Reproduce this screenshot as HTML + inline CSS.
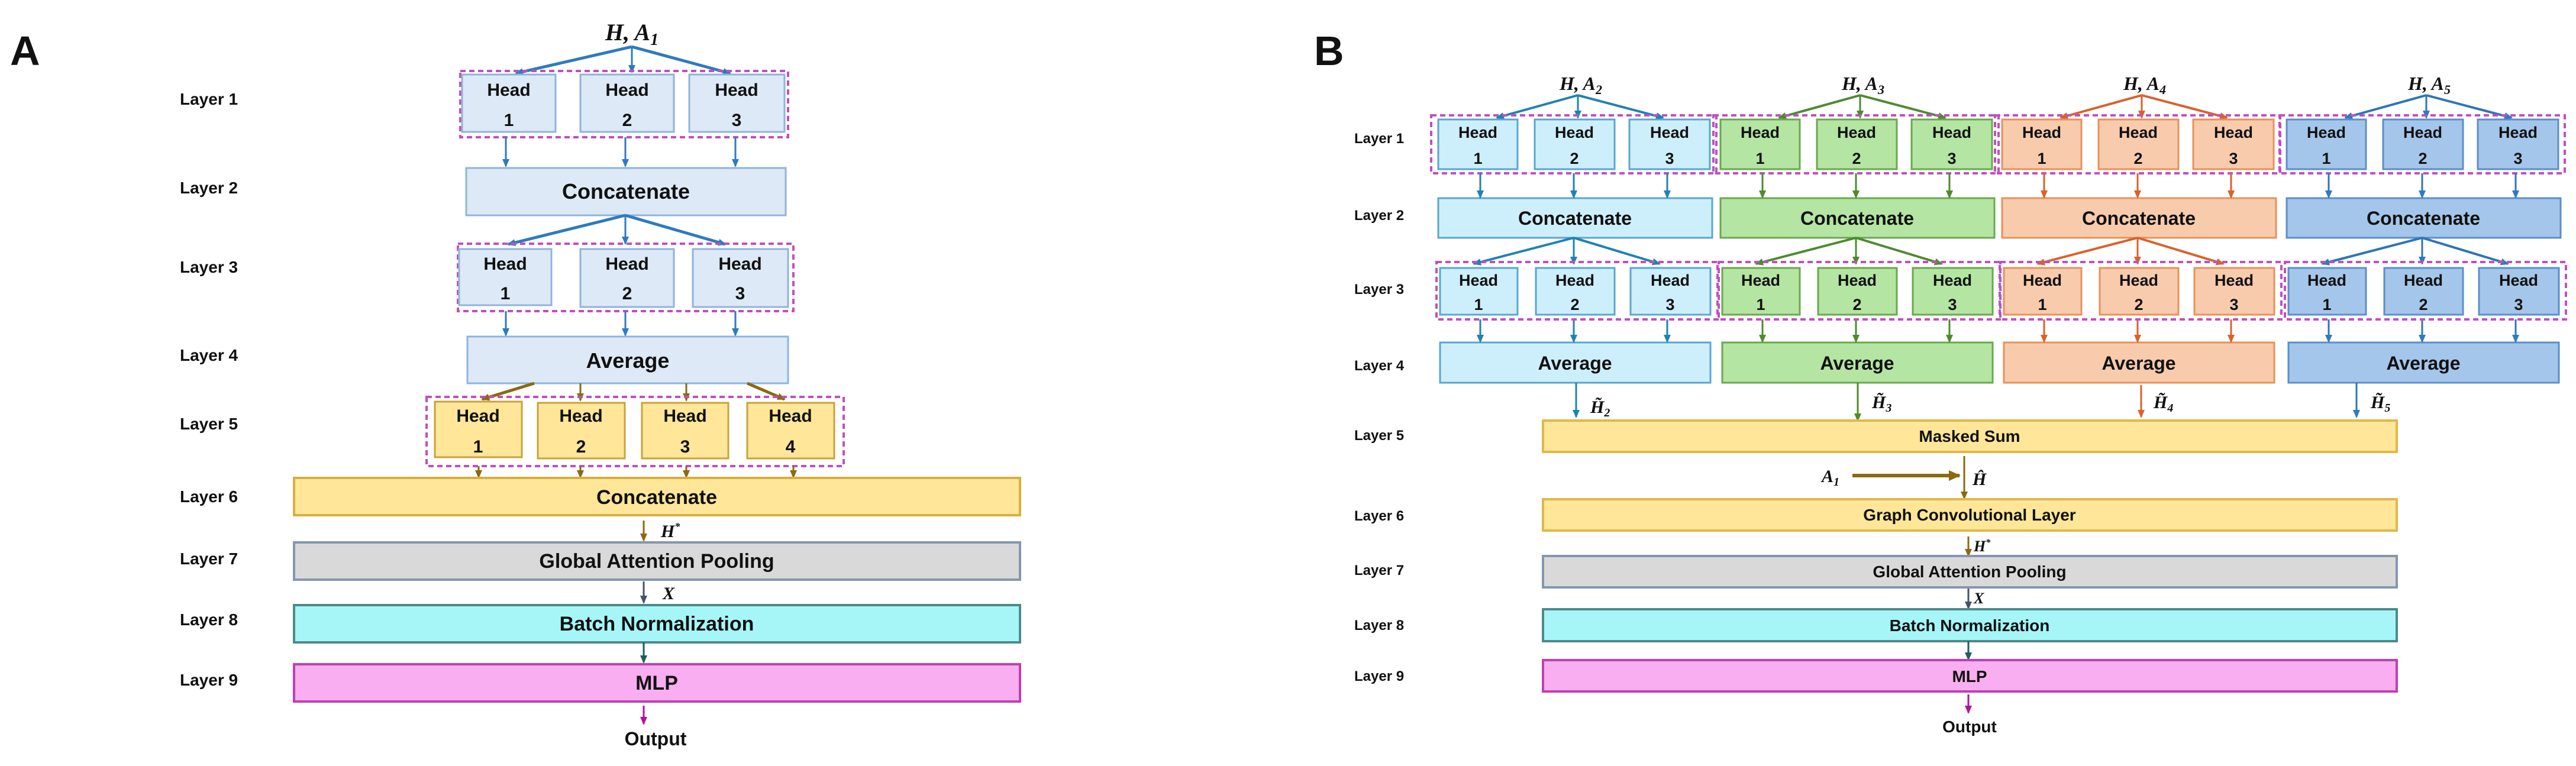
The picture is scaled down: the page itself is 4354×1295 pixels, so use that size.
<!DOCTYPE html>
<html><head><meta charset="utf-8"><style>
html,body{margin:0;padding:0;background:#fff;}
svg{display:block;}
text{font-family:"Liberation Sans",sans-serif;font-weight:bold;fill:#111;}
.m{font-family:"Liberation Serif","DejaVu Serif",serif;font-style:italic;font-weight:bold;}
</style></head><body>
<svg width="4354" height="1295" viewBox="0 0 4354 1295" xmlns="http://www.w3.org/2000/svg">
<defs>
<marker id="mb" markerWidth="14" markerHeight="12" refX="12" refY="6" orient="auto" markerUnits="userSpaceOnUse"><path d="M0,0 L14,6 L0,12 z" fill="#2e7bbf"/></marker>
<marker id="mg" markerWidth="14" markerHeight="12" refX="12" refY="6" orient="auto" markerUnits="userSpaceOnUse"><path d="M0,0 L14,6 L0,12 z" fill="#4e8a2e"/></marker>
<marker id="mo" markerWidth="14" markerHeight="12" refX="12" refY="6" orient="auto" markerUnits="userSpaceOnUse"><path d="M0,0 L14,6 L0,12 z" fill="#d9622b"/></marker>
<marker id="mc" markerWidth="14" markerHeight="12" refX="12" refY="6" orient="auto" markerUnits="userSpaceOnUse"><path d="M0,0 L14,6 L0,12 z" fill="#1f82b4"/></marker>
<marker id="mn" markerWidth="14" markerHeight="12" refX="12" refY="6" orient="auto" markerUnits="userSpaceOnUse"><path d="M0,0 L14,6 L0,12 z" fill="#8a6a10"/></marker>
<marker id="mn2" markerWidth="20" markerHeight="18" refX="18" refY="9" orient="auto" markerUnits="userSpaceOnUse"><path d="M0,0 L20,9 L0,18 z" fill="#8a6a10"/></marker>
<marker id="ms" markerWidth="14" markerHeight="12" refX="12" refY="6" orient="auto" markerUnits="userSpaceOnUse"><path d="M0,0 L14,6 L0,12 z" fill="#44546a"/></marker>
<marker id="mt" markerWidth="14" markerHeight="12" refX="12" refY="6" orient="auto" markerUnits="userSpaceOnUse"><path d="M0,0 L14,6 L0,12 z" fill="#1e5e5e"/></marker>
<marker id="mm" markerWidth="14" markerHeight="12" refX="12" refY="6" orient="auto" markerUnits="userSpaceOnUse"><path d="M0,0 L14,6 L0,12 z" fill="#b0139a"/></marker>
</defs>

<!-- ================= PANEL A ================= -->
<text x="17" y="110" font-size="70">A</text>
<g font-size="28">
<text x="304" y="177">Layer 1</text>
<text x="304" y="327">Layer 2</text>
<text x="304" y="461">Layer 3</text>
<text x="304" y="610">Layer 4</text>
<text x="304" y="726">Layer 5</text>
<text x="304" y="849">Layer 6</text>
<text x="304" y="954">Layer 7</text>
<text x="304" y="1057">Layer 8</text>
<text x="304" y="1159">Layer 9</text>
</g>
<text class="m" x="1068" y="68" font-size="40" text-anchor="middle">H, A<tspan font-size="28" dy="8">1</tspan></text>
<g stroke="#2e7bbf" fill="none">
<line x1="1068" y1="79" x2="872" y2="124" stroke-width="5" marker-end="url(#mb)"/>
<line x1="1068" y1="79" x2="1068" y2="122" stroke-width="3" marker-end="url(#mb)"/>
<line x1="1068" y1="79" x2="1234" y2="124" stroke-width="5" marker-end="url(#mb)"/>
</g>
<rect x="778" y="120" width="554" height="112" fill="none" stroke="#c050c0" stroke-width="4" stroke-dasharray="9 6"/>
<g fill="#dde9f6" stroke="#8fb4dc" stroke-width="3">
<rect x="781" y="126" width="158" height="97"/><rect x="981" y="126" width="158" height="97"/><rect x="1165" y="126" width="161" height="97"/>
</g>
<g font-size="30" text-anchor="middle">
<text x="860" y="162">Head</text><text x="860" y="213">1</text>
<text x="1060" y="162">Head</text><text x="1060" y="213">2</text>
<text x="1245" y="162">Head</text><text x="1245" y="213">3</text>
</g>
<g stroke="#2e7bbf" stroke-width="3">
<line x1="855" y1="232" x2="855" y2="281" marker-end="url(#mb)"/>
<line x1="1057" y1="232" x2="1057" y2="281" marker-end="url(#mb)"/>
<line x1="1243" y1="232" x2="1243" y2="281" marker-end="url(#mb)"/>
</g>
<rect x="788" y="284" width="540" height="80" fill="#dde9f6" stroke="#8fb4dc" stroke-width="3"/>
<text x="1058" y="336" font-size="36" text-anchor="middle">Concatenate</text>
<g stroke="#2e7bbf" fill="none">
<line x1="1057" y1="364" x2="859" y2="413" stroke-width="5" marker-end="url(#mb)"/>
<line x1="1057" y1="364" x2="1057" y2="412" stroke-width="3" marker-end="url(#mb)"/>
<line x1="1057" y1="364" x2="1226" y2="413" stroke-width="5" marker-end="url(#mb)"/>
</g>
<rect x="774" y="412" width="567" height="114" fill="none" stroke="#c050c0" stroke-width="4" stroke-dasharray="9 6"/>
<g fill="#dde9f6" stroke="#8fb4dc" stroke-width="3">
<rect x="776" y="421" width="156" height="95"/><rect x="981" y="421" width="158" height="98"/><rect x="1171" y="421" width="161" height="98"/>
</g>
<g font-size="30" text-anchor="middle">
<text x="854" y="456">Head</text><text x="854" y="506">1</text>
<text x="1060" y="456">Head</text><text x="1060" y="506">2</text>
<text x="1251" y="456">Head</text><text x="1251" y="506">3</text>
</g>
<g stroke="#2e7bbf" stroke-width="3">
<line x1="855" y1="526" x2="855" y2="567" marker-end="url(#mb)"/>
<line x1="1057" y1="526" x2="1057" y2="567" marker-end="url(#mb)"/>
<line x1="1243" y1="526" x2="1243" y2="567" marker-end="url(#mb)"/>
</g>
<rect x="790" y="569" width="542" height="79" fill="#dde9f6" stroke="#8fb4dc" stroke-width="3"/>
<text x="1061" y="622" font-size="36" text-anchor="middle">Average</text>
<g stroke="#8a6a10" fill="none">
<line x1="903" y1="648" x2="815" y2="675" stroke-width="5" marker-end="url(#mn)"/>
<line x1="981" y1="648" x2="981" y2="677" stroke-width="3" marker-end="url(#mn)"/>
<line x1="1160" y1="648" x2="1160" y2="677" stroke-width="3" marker-end="url(#mn)"/>
<line x1="1263" y1="648" x2="1326" y2="675" stroke-width="5" marker-end="url(#mn)"/>
</g>
<rect x="721" y="671" width="705" height="117" fill="none" stroke="#c050c0" stroke-width="4" stroke-dasharray="9 6"/>
<g fill="#ffe699" stroke="#c9a33a" stroke-width="3">
<rect x="735" y="679" width="147" height="94"/><rect x="909" y="681" width="147" height="94"/><rect x="1085" y="681" width="146" height="94"/><rect x="1263" y="681" width="147" height="94"/>
</g>
<g font-size="30" text-anchor="middle">
<text x="808" y="713">Head</text><text x="808" y="765">1</text>
<text x="982" y="713">Head</text><text x="982" y="765">2</text>
<text x="1158" y="713">Head</text><text x="1158" y="765">3</text>
<text x="1336" y="713">Head</text><text x="1336" y="765">4</text>
</g>
<g stroke="#8a6a10" stroke-width="3">
<line x1="809" y1="788" x2="809" y2="807" marker-end="url(#mn)"/>
<line x1="981" y1="788" x2="981" y2="807" marker-end="url(#mn)"/>
<line x1="1160" y1="788" x2="1160" y2="807" marker-end="url(#mn)"/>
<line x1="1341" y1="788" x2="1341" y2="807" marker-end="url(#mn)"/>
</g>
<rect x="497" y="808" width="1227" height="63" fill="#ffe699" stroke="#d6b040" stroke-width="4"/>
<text x="1110" y="852" font-size="34" text-anchor="middle">Concatenate</text>
<line x1="1088" y1="880" x2="1088" y2="914" stroke="#8a6a10" stroke-width="3" marker-end="url(#mn)"/>
<text class="m" x="1117" y="908" font-size="30">H<tspan font-size="18" dy="-12">*</tspan></text>
<rect x="497" y="917" width="1227" height="63" fill="#d9d9d9" stroke="#8496b0" stroke-width="4"/>
<text x="1110" y="960" font-size="34" text-anchor="middle">Global Attention Pooling</text>
<line x1="1088" y1="983" x2="1088" y2="1019" stroke="#44546a" stroke-width="3" marker-end="url(#ms)"/>
<text class="m" x="1120" y="1013" font-size="30">X</text>
<rect x="497" y="1023" width="1227" height="63" fill="#a6f6f8" stroke="#4e8a8a" stroke-width="4"/>
<text x="1110" y="1066" font-size="34" text-anchor="middle">Batch Normalization</text>
<line x1="1088" y1="1086" x2="1088" y2="1120" stroke="#1e5e5e" stroke-width="3" marker-end="url(#mt)"/>
<rect x="497" y="1123" width="1227" height="63" fill="#f8aef0" stroke="#c040b0" stroke-width="4"/>
<text x="1110" y="1166" font-size="34" text-anchor="middle">MLP</text>
<line x1="1088" y1="1193" x2="1088" y2="1224" stroke="#b0139a" stroke-width="3" marker-end="url(#mm)"/>
<text x="1108" y="1260" font-size="32" text-anchor="middle">Output</text>

<!-- ================= PANEL B ================= -->
<text x="2221" y="110" font-size="70">B</text>
<g font-size="24">
<text x="2289" y="242">Layer 1</text>
<text x="2289" y="372">Layer 2</text>
<text x="2289" y="497">Layer 3</text>
<text x="2289" y="626">Layer 4</text>
<text x="2289" y="744">Layer 5</text>
<text x="2289" y="880">Layer 6</text>
<text x="2289" y="972">Layer 7</text>
<text x="2289" y="1065">Layer 8</text>
<text x="2289" y="1151">Layer 9</text>
</g>

<!-- group 1 -->
<g>
<text class="m" x="2672" y="152" font-size="32" text-anchor="middle">H, A<tspan font-size="22" dy="7">2</tspan></text>
<g stroke="#1f82b4" fill="none">
<line x1="2667" y1="161" x2="2530" y2="199" stroke-width="4" marker-end="url(#mc)"/>
<line x1="2667" y1="161" x2="2667" y2="199" stroke-width="3" marker-end="url(#mc)"/>
<line x1="2667" y1="161" x2="2811" y2="199" stroke-width="4" marker-end="url(#mc)"/>
</g>
<rect x="2419" y="195" width="482" height="98" fill="none" stroke="#c050c0" stroke-width="4" stroke-dasharray="9 6"/>
<g fill="#cdeffc" stroke="#5aa6cf" stroke-width="3">
<rect x="2431" y="202" width="134" height="84"/><rect x="2594" y="202" width="135" height="84"/><rect x="2754" y="202" width="136" height="84"/>
<rect x="2431" y="335" width="463" height="67"/>
<rect x="2434" y="453" width="131" height="79"/><rect x="2596" y="453" width="133" height="79"/><rect x="2756" y="453" width="135" height="79"/>
<rect x="2434" y="579" width="457" height="68"/>
</g>
<g font-size="27" text-anchor="middle">
<text x="2498" y="233">Head</text><text x="2498" y="277">1</text>
<text x="2661" y="233">Head</text><text x="2661" y="277">2</text>
<text x="2822" y="233">Head</text><text x="2822" y="277">3</text>
<text x="2662" y="380" font-size="32">Concatenate</text>
<text x="2499" y="483">Head</text><text x="2499" y="524">1</text>
<text x="2662" y="483">Head</text><text x="2662" y="524">2</text>
<text x="2823" y="483">Head</text><text x="2823" y="524">3</text>
<text x="2662" y="625" font-size="32">Average</text>
</g>
<g stroke="#1f82b4" stroke-width="3" fill="none">
<line x1="2502" y1="293" x2="2502" y2="334" marker-end="url(#mc)"/>
<line x1="2660" y1="293" x2="2660" y2="334" marker-end="url(#mc)"/>
<line x1="2818" y1="293" x2="2818" y2="334" marker-end="url(#mc)"/>
<line x1="2660" y1="402" x2="2491" y2="446" stroke-width="4" marker-end="url(#mc)"/>
<line x1="2660" y1="402" x2="2660" y2="446" marker-end="url(#mc)"/>
<line x1="2660" y1="402" x2="2805" y2="446" stroke-width="4" marker-end="url(#mc)"/>
<line x1="2502" y1="540" x2="2502" y2="578" marker-end="url(#mc)"/>
<line x1="2660" y1="540" x2="2660" y2="578" marker-end="url(#mc)"/>
<line x1="2818" y1="540" x2="2818" y2="578" marker-end="url(#mc)"/>
</g>
<rect x="2428" y="443" width="475" height="97" fill="none" stroke="#c050c0" stroke-width="4" stroke-dasharray="9 6"/>
</g>

<!-- group 2 -->
<g transform="translate(477,0)">
<text class="m" x="2672" y="152" font-size="32" text-anchor="middle">H, A<tspan font-size="22" dy="7">3</tspan></text>
<g stroke="#4e8a2e" fill="none">
<line x1="2667" y1="161" x2="2530" y2="199" stroke-width="4" marker-end="url(#mg)"/>
<line x1="2667" y1="161" x2="2667" y2="199" stroke-width="3" marker-end="url(#mg)"/>
<line x1="2667" y1="161" x2="2811" y2="199" stroke-width="4" marker-end="url(#mg)"/>
</g>
<rect x="2419" y="195" width="482" height="98" fill="none" stroke="#c050c0" stroke-width="4" stroke-dasharray="9 6"/>
<g fill="#b4e5a2" stroke="#6aa84f" stroke-width="3">
<rect x="2431" y="202" width="134" height="84"/><rect x="2594" y="202" width="135" height="84"/><rect x="2754" y="202" width="136" height="84"/>
<rect x="2431" y="335" width="463" height="67"/>
<rect x="2434" y="453" width="131" height="79"/><rect x="2596" y="453" width="133" height="79"/><rect x="2756" y="453" width="135" height="79"/>
<rect x="2434" y="579" width="457" height="68"/>
</g>
<g font-size="27" text-anchor="middle">
<text x="2498" y="233">Head</text><text x="2498" y="277">1</text>
<text x="2661" y="233">Head</text><text x="2661" y="277">2</text>
<text x="2822" y="233">Head</text><text x="2822" y="277">3</text>
<text x="2662" y="380" font-size="32">Concatenate</text>
<text x="2499" y="483">Head</text><text x="2499" y="524">1</text>
<text x="2662" y="483">Head</text><text x="2662" y="524">2</text>
<text x="2823" y="483">Head</text><text x="2823" y="524">3</text>
<text x="2662" y="625" font-size="32">Average</text>
</g>
<g stroke="#4e8a2e" stroke-width="3" fill="none">
<line x1="2502" y1="293" x2="2502" y2="334" marker-end="url(#mg)"/>
<line x1="2660" y1="293" x2="2660" y2="334" marker-end="url(#mg)"/>
<line x1="2818" y1="293" x2="2818" y2="334" marker-end="url(#mg)"/>
<line x1="2660" y1="402" x2="2491" y2="446" stroke-width="4" marker-end="url(#mg)"/>
<line x1="2660" y1="402" x2="2660" y2="446" marker-end="url(#mg)"/>
<line x1="2660" y1="402" x2="2805" y2="446" stroke-width="4" marker-end="url(#mg)"/>
<line x1="2502" y1="540" x2="2502" y2="578" marker-end="url(#mg)"/>
<line x1="2660" y1="540" x2="2660" y2="578" marker-end="url(#mg)"/>
<line x1="2818" y1="540" x2="2818" y2="578" marker-end="url(#mg)"/>
</g>
<rect x="2428" y="443" width="475" height="97" fill="none" stroke="#c050c0" stroke-width="4" stroke-dasharray="9 6"/>
</g>

<!-- group 3 -->
<g transform="translate(953,0)">
<text class="m" x="2672" y="152" font-size="32" text-anchor="middle">H, A<tspan font-size="22" dy="7">4</tspan></text>
<g stroke="#d9622b" fill="none">
<line x1="2667" y1="161" x2="2530" y2="199" stroke-width="4" marker-end="url(#mo)"/>
<line x1="2667" y1="161" x2="2667" y2="199" stroke-width="3" marker-end="url(#mo)"/>
<line x1="2667" y1="161" x2="2811" y2="199" stroke-width="4" marker-end="url(#mo)"/>
</g>
<rect x="2419" y="195" width="482" height="98" fill="none" stroke="#c050c0" stroke-width="4" stroke-dasharray="9 6"/>
<g fill="#f8cbad" stroke="#e8915a" stroke-width="3">
<rect x="2431" y="202" width="134" height="84"/><rect x="2594" y="202" width="135" height="84"/><rect x="2754" y="202" width="136" height="84"/>
<rect x="2431" y="335" width="463" height="67"/>
<rect x="2434" y="453" width="131" height="79"/><rect x="2596" y="453" width="133" height="79"/><rect x="2756" y="453" width="135" height="79"/>
<rect x="2434" y="579" width="457" height="68"/>
</g>
<g font-size="27" text-anchor="middle">
<text x="2498" y="233">Head</text><text x="2498" y="277">1</text>
<text x="2661" y="233">Head</text><text x="2661" y="277">2</text>
<text x="2822" y="233">Head</text><text x="2822" y="277">3</text>
<text x="2662" y="380" font-size="32">Concatenate</text>
<text x="2499" y="483">Head</text><text x="2499" y="524">1</text>
<text x="2662" y="483">Head</text><text x="2662" y="524">2</text>
<text x="2823" y="483">Head</text><text x="2823" y="524">3</text>
<text x="2662" y="625" font-size="32">Average</text>
</g>
<g stroke="#d9622b" stroke-width="3" fill="none">
<line x1="2502" y1="293" x2="2502" y2="334" marker-end="url(#mo)"/>
<line x1="2660" y1="293" x2="2660" y2="334" marker-end="url(#mo)"/>
<line x1="2818" y1="293" x2="2818" y2="334" marker-end="url(#mo)"/>
<line x1="2660" y1="402" x2="2491" y2="446" stroke-width="4" marker-end="url(#mo)"/>
<line x1="2660" y1="402" x2="2660" y2="446" marker-end="url(#mo)"/>
<line x1="2660" y1="402" x2="2805" y2="446" stroke-width="4" marker-end="url(#mo)"/>
<line x1="2502" y1="540" x2="2502" y2="578" marker-end="url(#mo)"/>
<line x1="2660" y1="540" x2="2660" y2="578" marker-end="url(#mo)"/>
<line x1="2818" y1="540" x2="2818" y2="578" marker-end="url(#mo)"/>
</g>
<rect x="2428" y="443" width="475" height="97" fill="none" stroke="#c050c0" stroke-width="4" stroke-dasharray="9 6"/>
</g>

<!-- group 4 -->
<g transform="translate(1434,0)">
<text class="m" x="2672" y="152" font-size="32" text-anchor="middle">H, A<tspan font-size="22" dy="7">5</tspan></text>
<g stroke="#2e75b6" fill="none">
<line x1="2667" y1="161" x2="2530" y2="199" stroke-width="4" marker-end="url(#mb)"/>
<line x1="2667" y1="161" x2="2667" y2="199" stroke-width="3" marker-end="url(#mb)"/>
<line x1="2667" y1="161" x2="2811" y2="199" stroke-width="4" marker-end="url(#mb)"/>
</g>
<rect x="2419" y="195" width="482" height="98" fill="none" stroke="#c050c0" stroke-width="4" stroke-dasharray="9 6"/>
<g fill="#a4c6ea" stroke="#5b8fc9" stroke-width="3">
<rect x="2431" y="202" width="134" height="84"/><rect x="2594" y="202" width="135" height="84"/><rect x="2754" y="202" width="136" height="84"/>
<rect x="2431" y="335" width="463" height="67"/>
<rect x="2434" y="453" width="131" height="79"/><rect x="2596" y="453" width="133" height="79"/><rect x="2756" y="453" width="135" height="79"/>
<rect x="2434" y="579" width="457" height="68"/>
</g>
<g font-size="27" text-anchor="middle">
<text x="2498" y="233">Head</text><text x="2498" y="277">1</text>
<text x="2661" y="233">Head</text><text x="2661" y="277">2</text>
<text x="2822" y="233">Head</text><text x="2822" y="277">3</text>
<text x="2662" y="380" font-size="32">Concatenate</text>
<text x="2499" y="483">Head</text><text x="2499" y="524">1</text>
<text x="2662" y="483">Head</text><text x="2662" y="524">2</text>
<text x="2823" y="483">Head</text><text x="2823" y="524">3</text>
<text x="2662" y="625" font-size="32">Average</text>
</g>
<g stroke="#2e75b6" stroke-width="3" fill="none">
<line x1="2502" y1="293" x2="2502" y2="334" marker-end="url(#mb)"/>
<line x1="2660" y1="293" x2="2660" y2="334" marker-end="url(#mb)"/>
<line x1="2818" y1="293" x2="2818" y2="334" marker-end="url(#mb)"/>
<line x1="2660" y1="402" x2="2491" y2="446" stroke-width="4" marker-end="url(#mb)"/>
<line x1="2660" y1="402" x2="2660" y2="446" marker-end="url(#mb)"/>
<line x1="2660" y1="402" x2="2805" y2="446" stroke-width="4" marker-end="url(#mb)"/>
<line x1="2502" y1="540" x2="2502" y2="578" marker-end="url(#mb)"/>
<line x1="2660" y1="540" x2="2660" y2="578" marker-end="url(#mb)"/>
<line x1="2818" y1="540" x2="2818" y2="578" marker-end="url(#mb)"/>
</g>
<rect x="2428" y="443" width="475" height="97" fill="none" stroke="#c050c0" stroke-width="4" stroke-dasharray="9 6"/>
</g>

<!-- H tilde arrows -->
<g stroke-width="3">
<line x1="2664" y1="647" x2="2664" y2="705" stroke="#1f82b4" marker-end="url(#mc)"/>
<line x1="3140" y1="647" x2="3140" y2="711" stroke="#4e8a2e" marker-end="url(#mg)"/>
<line x1="3619" y1="651" x2="3619" y2="705" stroke="#d9622b" marker-end="url(#mo)"/>
<line x1="3983" y1="647" x2="3983" y2="705" stroke="#2e75b6" marker-end="url(#mb)"/>
</g>
<g font-size="30">
<text class="m" x="2688" y="698">H̃<tspan font-size="20" dy="6">2</tspan></text>
<text class="m" x="3164" y="690">H̃<tspan font-size="20" dy="6">3</tspan></text>
<text class="m" x="3640" y="690">H̃<tspan font-size="20" dy="6">4</tspan></text>
<text class="m" x="4007" y="690">H̃<tspan font-size="20" dy="6">5</tspan></text>
</g>

<rect x="2608" y="711" width="1443" height="53" fill="#ffe699" stroke="#e0b84a" stroke-width="4"/>
<text x="3329" y="747" font-size="28" text-anchor="middle">Masked Sum</text>
<text class="m" x="3079" y="815" font-size="30">A<tspan font-size="20" dy="6">1</tspan></text>
<line x1="3131" y1="804" x2="3312" y2="804" stroke="#8a6a10" stroke-width="6" marker-end="url(#mn2)"/>
<line x1="3320" y1="771" x2="3320" y2="843" stroke="#8a6a10" stroke-width="3" marker-end="url(#mn)"/>
<text class="m" x="3334" y="820" font-size="30">Ĥ</text>
<rect x="2608" y="844" width="1443" height="53" fill="#ffe699" stroke="#e0b84a" stroke-width="4"/>
<text x="3329" y="880" font-size="28" text-anchor="middle">Graph Convolutional Layer</text>
<line x1="3327" y1="907" x2="3327" y2="940" stroke="#8a6a10" stroke-width="3" marker-end="url(#mn)"/>
<text class="m" x="3336" y="932" font-size="26">H<tspan font-size="16" dy="-10">*</tspan></text>
<rect x="2608" y="940" width="1443" height="53" fill="#d9d9d9" stroke="#8496b0" stroke-width="4"/>
<text x="3329" y="976" font-size="28" text-anchor="middle">Global Attention Pooling</text>
<line x1="3327" y1="995" x2="3327" y2="1029" stroke="#44546a" stroke-width="3" marker-end="url(#ms)"/>
<text class="m" x="3336" y="1020" font-size="26">X</text>
<rect x="2608" y="1030" width="1443" height="54" fill="#a6f6f8" stroke="#4e8a8a" stroke-width="4"/>
<text x="3329" y="1067" font-size="28" text-anchor="middle">Batch Normalization</text>
<line x1="3327" y1="1084" x2="3327" y2="1115" stroke="#1e5e5e" stroke-width="3" marker-end="url(#mt)"/>
<rect x="2608" y="1116" width="1443" height="53" fill="#f8aef0" stroke="#c040b0" stroke-width="4"/>
<text x="3329" y="1153" font-size="28" text-anchor="middle">MLP</text>
<line x1="3327" y1="1174" x2="3327" y2="1205" stroke="#b0139a" stroke-width="3" marker-end="url(#mm)"/>
<text x="3329" y="1238" font-size="28" text-anchor="middle">Output</text>
</svg>
</body></html>
